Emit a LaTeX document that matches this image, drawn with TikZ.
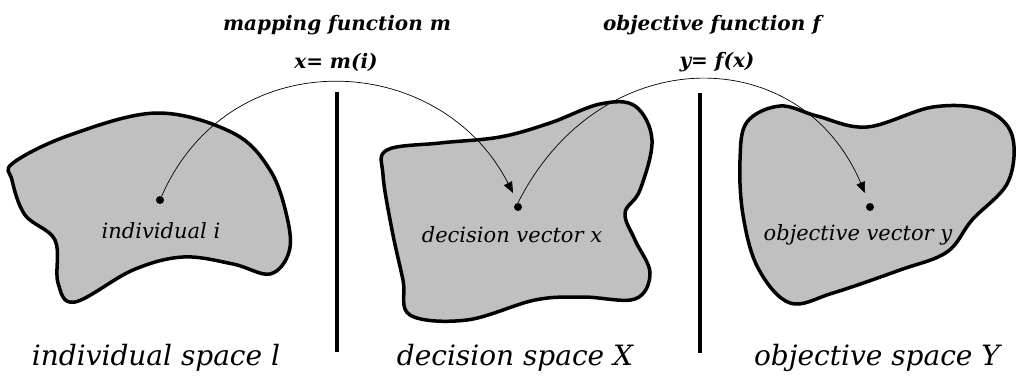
\documentclass[tikz,border=0pt]{standalone}
\usepackage{fontspec}
\setmainfont{DejaVu Serif}
\usetikzlibrary{arrows.meta}
\definecolor{blobGray}{RGB}{192,192,192}

\begin{document}
\begin{tikzpicture}[x=1pt, y=-1pt,
    blob/.style={draw, fill=blobGray, line width=3.5pt, line join=round},
    dot/.style={circle, fill, inner sep=0pt, minimum size=8pt},
    map/.style={line width=0.7pt, -{Triangle[length=11pt,width=9pt]}},
    divider/.style={line width=4pt},
    fname/.style={font=\fontsize{20}{24}\selectfont\bfseries\itshape, align=center},
    pname/.style={font=\fontsize{21}{25}\selectfont\itshape},
    sname/.style={font=\fontsize{28}{32}\selectfont\itshape}]
    \useasboundingbox (0,0) rectangle (1019,377);
    % the three spaces
    \draw[blob] plot[smooth cycle, tension=0.6] coordinates {
        (13,163) (70,135) (157,113) (233,133) (270,170) (287,217) (289,252)
        (270,274) (233,264) (183,257) (133,270) (75,302) (58,283) (55,240)
        (25,215) (12,180)};
    \draw[blob] plot[smooth cycle, tension=0.6] coordinates {
        (387,150) (440,143) (500,137) (550,123) (600,104) (635,106) (652,140)
        (640,190) (625,213) (635,240) (650,273) (635,299) (583,297) (535,300)
        (467,320) (410,315) (403,280) (392,230) (383,175)};
    \draw[blob] plot[smooth cycle, tension=0.6] coordinates {
        (747,122) (780,106) (817,116) (867,127) (933,107) (985,110) (1012,135)
        (1008,182) (972,220) (947,252) (900,270) (833,293) (790,303) (758,268)
        (743,215) (740,160)};
    \draw[divider] (337,92) -- (337,352);
    \draw[divider] (700,93) -- (700,353);
    % points
    \node[dot] (ind) at (160,200) {};
    \node[dot] (dec) at (518,207) {};
    \node[dot] (obj) at (870,207) {};
    \coordinate (decin) at (513,193);
    \coordinate (objin) at (865,193);
    \node[pname] at (161,231) {individual i};
    \node[pname] at (512,235) {decision vector x};
    \node[pname] at (858,235) {objective vector y};
    % mappings
    \draw[map] (ind) .. controls (230,40) and (440,50) .. (decin);
    \draw[map] (dec.north) .. controls (600,40) and (800,40) .. (objin);
    \node[fname] at (337,25) {mapping function m};
    \node[fname] at (336,62) {x= m(i)};
    \node[fname] at (712,25) {objective function f};
    \node[fname] at (717,62) {y= f(x)};
    \node[sname] at (156,358) {individual space l};
    \node[sname] at (515,358) {decision space X};
    \node[sname] at (877,358) {objective space Y};
\end{tikzpicture}
\end{document}
